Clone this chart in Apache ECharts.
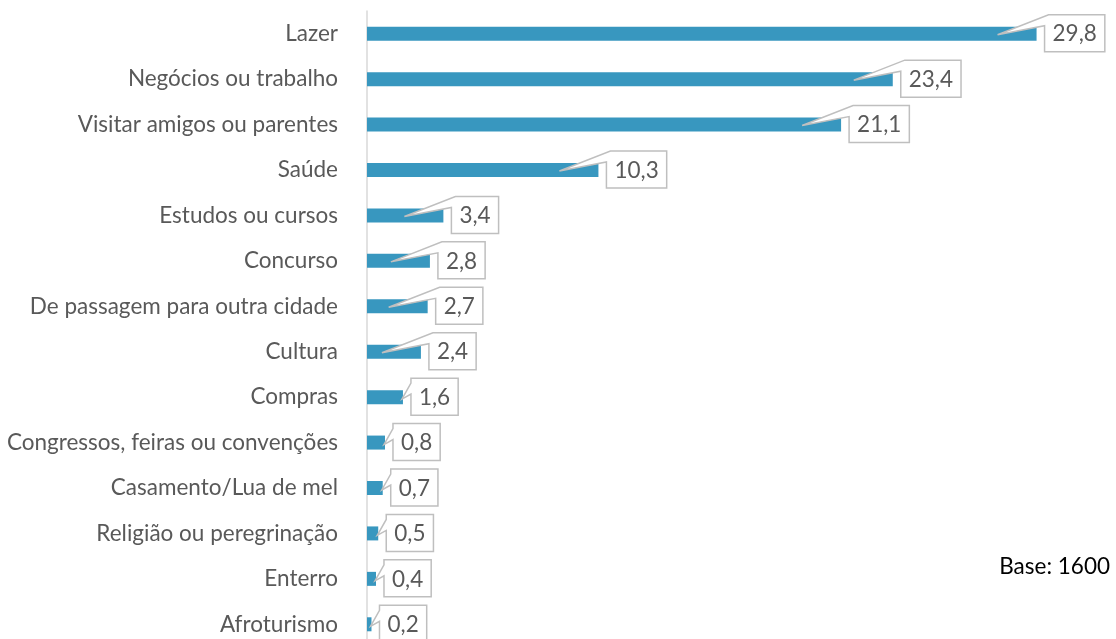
<!DOCTYPE html>
<html>
<head>
<meta charset="utf-8">
<script src="https://cdn.jsdelivr.net/npm/echarts@6/dist/echarts.min.js"></script>
<style>html,body{margin:0;padding:0;background:#fff}#c{width:1116px;height:639px}</style>
</head>
<body>
<div id="c"></div>
<script>
const categories = ["Lazer","Negócios ou trabalho","Visitar amigos ou parentes","Saúde","Estudos ou cursos","Concurso","De passagem para outra cidade","Cultura","Compras","Congressos, feiras ou convenções","Casamento/Lua de mel","Religião ou peregrinação","Enterro","Afroturismo"];
const values = [29.8,23.4,21.1,10.3,3.4,2.8,2.7,2.4,1.6,0.8,0.7,0.5,0.4,0.2];
const baseNote = "Base: 1600";

const FONT = "Lato, 'Open Sans', sans-serif";
const FS = 22.5;
const fmt = v => v.toFixed(1).replace('.', ',');
const cv = document.createElement('canvas').getContext('2d');
cv.font = FS + "px " + FONT;

const chart = echarts.init(document.getElementById('c'), null, {renderer: 'canvas'});
chart.setOption({
  animation: false,
  grid: {left: 367, right: 30, top: 11, height: 636, containLabel: false, outerBoundsMode: 'none'},
  xAxis: {type: 'value', min: 0, max: 32, show: false},
  yAxis: {
    type: 'category', data: categories, inverse: true,
    axisLine: {show: true, lineStyle: {color: '#d9d9d9', width: 1.5}},
    axisTick: {show: false},
    axisLabel: {color: '#595959', fontSize: FS, fontFamily: FONT, margin: 29}
  },
  series: [
    {type: 'bar', data: values, barWidth: 14, itemStyle: {color: '#3897bf'}, z: 2},
    {
      type: 'custom', z: 5,
      data: values.map((v, i) => [v, i]),
      encode: {x: 0, y: 1},
      renderItem: function (params, api) {
        const v = api.value(0), i = api.value(1);
        const end = api.coord([v, i]);
        const start = api.coord([0, i]);
        const len = end[0] - start[0];
        const txt = fmt(v);
        const tw = cv.measureText(txt).width;
        const L = end[0] + 8, T = end[1] - 19, W = tw + 16, H = 37;
        const R = L + W, B = T + H;
        let pts;
        if (len > 45) {
          const tip = [end[0] - 39, end[1] + 1];
          pts = [[L + 4, T], [R, T], [R, B], [L, B], [L, T + 11], tip, [L + 4, T]];
        } else {
          const tip = [end[0] - 1, end[1] + 2];
          pts = [[L, T], [R, T], [R, B], [L, B], [L, T + 16], tip, [L, T + 5]];
        }
        return {
          type: 'group',
          children: [
            {type: 'polygon', shape: {points: pts},
             style: {fill: '#ffffff', stroke: '#bfbfbf', lineWidth: 1.5}},
            {type: 'text', style: {text: txt, x: L + W / 2, y: T + H / 2 + 1,
              align: 'center', verticalAlign: 'middle', fill: '#595959',
              font: FS + 'px ' + FONT}}
          ]
        };
      }
    }
  ],
  graphic: [{
    type: 'text', right: 6, top: 555,
    style: {text: baseNote, fill: '#000000', font: FS + 'px ' + FONT}
  }]
});
</script>
</body>
</html>
